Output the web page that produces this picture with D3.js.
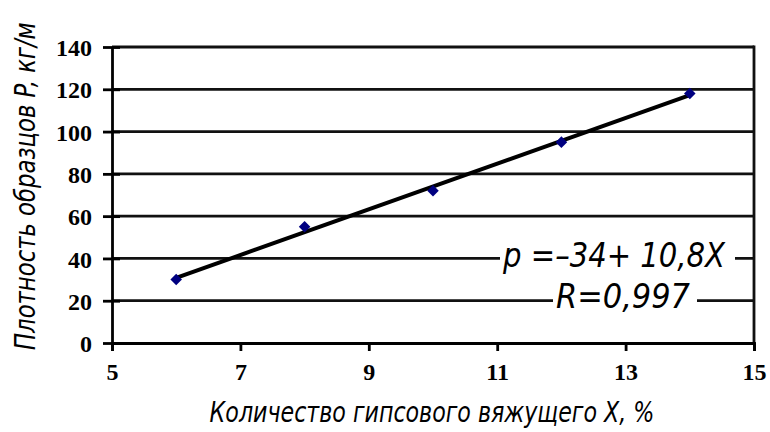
<!DOCTYPE html>
<html><head><meta charset="utf-8">
<script src="https://cdn.jsdelivr.net/npm/d3@7"></script>
<style>html,body{margin:0;padding:0;background:#fff;}</style>
</head><body>
<svg id="c" width="770" height="432"></svg>
<script>
const xValues = [6, 8, 10, 12, 14];
const yValues = [30, 55, 72, 95, 118];
const xTicks = [5, 7, 9, 11, 13, 15];
const yTicks = [0, 20, 40, 60, 80, 100, 120, 140];
const fitIntercept = -34;
const fitSlope = 10.8;
const xTitle = "Количество гипсового вяжущего X, %";
const yTitle = "Плотность образцов P, кг/м";
const eqText = "p =–34+ 10,8X";
const rText = "R=0,997";

const svg = d3.select("#c");
const x = d3.scaleLinear().domain([5, 15]).range([112, 754]);
const y = d3.scaleLinear().domain([0, 140]).range([343, 47]);
const titleFont = "'Liberation Sans Narrow','DejaVu Sans Condensed',sans-serif";

// gridlines
svg.append("g").selectAll("line").data(yTicks.filter(d => d > 0)).join("line")
  .attr("x1", x(5)).attr("x2", x(15))
  .attr("y1", d => y(d)).attr("y2", d => y(d))
  .attr("stroke", "#111").attr("stroke-width", 2.8);
// right border
svg.append("line").attr("x1", x(15)).attr("x2", x(15)).attr("y1", y(140) - 1.4).attr("y2", y(0))
  .attr("stroke", "#111").attr("stroke-width", 2.8);

// axes
const yAxis = d3.axisLeft(y).tickValues(yTicks).tickSize(0).tickPadding(20);
const gy = svg.append("g").attr("transform", `translate(${x(5)},0)`).call(yAxis);
gy.select(".domain").attr("stroke", "#000").attr("stroke-width", 2.8);
gy.selectAll(".tick line").remove();
gy.selectAll(".tick").append("line").attr("x1", -9).attr("x2", 8)
  .attr("stroke", "#000").attr("stroke-width", 2.8);
gy.selectAll(".tick text").attr("font-family", "'Liberation Serif','Times New Roman',serif")
  .attr("font-weight", "bold").attr("font-size", 24).attr("fill", "#000").attr("dy", "0.36em");

const xAxis = d3.axisBottom(x).tickValues(xTicks).tickSize(8).tickPadding(12);
const gx = svg.append("g").attr("transform", `translate(0,${y(0)})`).call(xAxis);
gx.select(".domain").attr("stroke", "#000").attr("stroke-width", 2.8);
gx.selectAll(".tick line").attr("stroke", "#000").attr("stroke-width", 2.8);
gx.selectAll(".tick text").attr("font-family", "'Liberation Serif','Times New Roman',serif")
  .attr("font-weight", "bold").attr("font-size", 24).attr("fill", "#000");

// narrow italic text fitted to a target width by horizontal scaling
function fitText(txt, tx, ty, rot, size, width, anchor) {
  const t = svg.append("text").attr("text-anchor", anchor)
    .attr("font-family", titleFont).attr("font-style", "italic").attr("font-size", size)
    .attr("fill", "#000").text(txt);
  const L = t.node().getComputedTextLength();
  t.attr("transform", `translate(${tx},${ty}) rotate(${rot}) scale(${width / L},1)`);
  return t;
}

// equation labels with white background
function label(txt, cx, baseline, width, bgX1, bgX2, gridVal) {
  svg.append("rect").attr("x", bgX1).attr("width", bgX2 - bgX1)
    .attr("y", y(gridVal) - 3).attr("height", 6).attr("fill", "#fff");
  fitText(txt, cx, baseline, 0, 34, width, "middle");
}
label(eqText, 614, 267, 222, 500, 735, 40);
label(rText, 623, 308, 134, 553, 697, 20);

// fit line
svg.append("line")
  .attr("x1", x(xValues[0])).attr("y1", y(fitIntercept + fitSlope * xValues[0]))
  .attr("x2", x(xValues[xValues.length - 1])).attr("y2", y(fitIntercept + fitSlope * xValues[xValues.length - 1]))
  .attr("stroke", "#000").attr("stroke-width", 4);

// markers
svg.append("g").selectAll("path").data(xValues.map((d, i) => [d, yValues[i]])).join("path")
  .attr("d", d3.symbol().type(d3.symbolDiamond2).size(85))
  .attr("transform", d => `translate(${x(d[0])},${y(d[1])})`)
  .attr("fill", "#000080");

// titles
fitText(xTitle, 432, 422, 0, 29, 445, "middle");
fitText(yTitle, 35, 350, -90, 28, 328, "start");
</script>
</body></html>
